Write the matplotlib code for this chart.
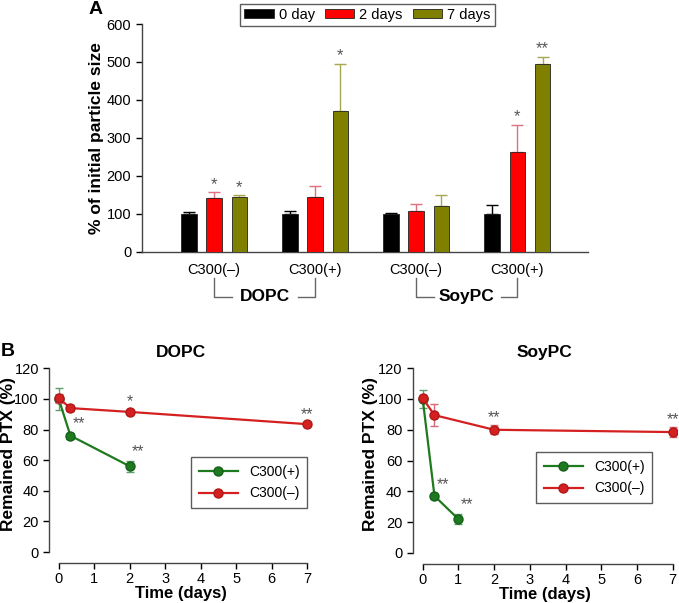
import matplotlib
matplotlib.use('Agg')
import matplotlib.pyplot as plt
import numpy as np
from matplotlib.patches import Patch

plt.rcParams['font.family'] = ['Liberation Sans', 'DejaVu Sans']
plt.rcParams['axes.linewidth'] = 1.0

# ---------------- Panel A data ----------------
groups = ['C300(–)', 'C300(+)', 'C300(–)', 'C300(+)']
lipids = ['DOPC', 'SoyPC']
day_labels = ['0 day', '2 days', '7 days']
size_0 = [100, 100, 100, 100]
size_2 = [142, 143, 108, 264]
size_7 = [143, 371, 120, 495]
err_0 = [4, 6, 3, 23]
err_2 = [14, 29, 18, 70]
err_7 = [6, 124, 29, 19]
sig_2 = ['*', '', '', '*']
sig_7 = ['*', '*', '', '**']

# ---------------- Panel B data ----------------
t_plus_dopc = [0, 0.33, 2]
y_plus_dopc = [100, 76, 56]
e_plus_dopc = [7, 2, 3.5]
sig_plus_dopc = ['', '**', '**']
t_minus_dopc = [0, 0.33, 2, 7]
y_minus_dopc = [100.5, 94, 91.5, 83.5]
e_minus_dopc = [3, 2, 1.5, 1.5]
sig_minus_dopc = ['', '', '*', '**']

t_plus_soy = [0, 0.33, 1]
y_plus_soy = [100, 37, 22]
e_plus_soy = [6, 1.5, 3.5]
sig_plus_soy = ['', '**', '**']
t_minus_soy = [0, 0.33, 2, 7]
y_minus_soy = [100.5, 89.5, 80, 78.5]
e_minus_soy = [1.5, 7, 3, 3]
sig_minus_soy = ['', '', '**', '**']

W, H = 679, 603
fig = plt.figure(figsize=(W / 100, H / 100), dpi=100)


def fr(x0, y0, x1, y1):
    return [x0 / W, 1 - y1 / H, (x1 - x0) / W, (y1 - y0) / H]


# ================= Panel A =================
axA = fig.add_axes(fr(141.7, 24, 588, 251.7))
bar_colors = ['#000000', '#ff0000', '#7f7f00']
err_colors = ['#000000', '#e0707f', '#a8a850']
vals = [size_0, size_2, size_7]
errs = [err_0, err_2, err_7]
sigs = [[''] * 4, sig_2, sig_7]
x = np.arange(len(groups))
bw = 0.153
off = 0.25
for i in range(3):
    xi = x + (i - 1) * off
    axA.bar(xi, vals[i], width=bw, color=bar_colors[i], edgecolor='#222222',
            linewidth=0.6, zorder=3)
    axA.errorbar(xi, vals[i], yerr=[np.zeros(4), errs[i]], fmt='none',
                 ecolor=err_colors[i], elinewidth=1.0, capsize=4, capthick=1.0,
                 zorder=2)
    for k in range(4):
        if sigs[i][k]:
            axA.text(xi[k], vals[i][k] + errs[i][k] + 1, sigs[i][k],
                     ha='center', va='bottom', fontsize=12, color='#555555')

axA.set_xlim(-0.716, 3.70)
axA.set_ylim(0, 600)
axA.set_yticks(np.arange(0, 601, 100))
axA.set_xticks(x)
axA.set_xticklabels(groups, fontsize=10.5)
axA.tick_params(axis='x', length=0, pad=8)
axA.tick_params(axis='y', labelsize=10.5, length=4, width=1, direction='out')
for s in ['top', 'right']:
    axA.spines[s].set_visible(False)
for s in ['left', 'bottom']:
    axA.spines[s].set_color('#444444')
axA.set_ylabel('% of initial particle size', fontsize=12.5, fontweight='bold')
axA.yaxis.set_label_coords(-0.085, 0.5)

# group brackets
tr = axA.get_xaxis_transform()
for j, lip in enumerate(lipids):
    a, b = x[2 * j], x[2 * j + 1]
    ytop, ybot = -0.1155, -0.1976
    axA.plot([a, a, a + 0.18], [ytop, ybot, ybot], transform=tr, color='#666666',
             lw=1.0, clip_on=False)
    axA.plot([b - 0.165, b, b], [ybot, ybot, ytop], transform=tr, color='#666666',
             lw=1.0, clip_on=False)
    axA.text((a + b) / 2, ybot, lip, transform=tr, ha='center', va='center',
             fontsize=12.5, fontweight='bold')

handles = [Patch(facecolor=c, edgecolor='#222222', linewidth=0.6) for c in bar_colors]
fig.legend(handles, day_labels, loc='center', bbox_to_anchor=(367.5 / W, 1 - 15 / H),
           ncol=3, frameon=True, fancybox=False, edgecolor='#333333', fontsize=10.5,
           handlelength=2.0, handleheight=0.6, columnspacing=0.7,
           handletextpad=0.35, borderpad=0.3)
fig.text(89 / W, 1 - 9 / H, 'A', fontsize=14, fontweight='bold', va='center')


# ================= Panel B =================
def panel_b(rect, xlim, ylim, tp, yp, ep, sp, tm, ym, em, sm, title, leg_anchor,
            ylab_x):
    ax = fig.add_axes(rect)
    gc, rc = '#1e7a1e', '#d42020'
    gerr, rerr = '#5f9f70', '#d86a78'
    ax.errorbar(tp, yp, yerr=ep, fmt='none', ecolor=gerr, elinewidth=1.0,
                capsize=3, capthick=1.0, zorder=2)
    ax.plot(tp, yp, '-o', color=gc, lw=1.6, ms=6.5, mec='#16601a', zorder=3,
            label='C300(+)')
    ax.errorbar(tm, ym, yerr=em, fmt='none', ecolor=rerr, elinewidth=1.0,
                capsize=3, capthick=1.0, zorder=4)
    ax.plot(tm, ym, '-o', color=rc, lw=1.6, ms=6.5, mec='#b01818', zorder=5,
            label='C300(–)')
    for tt, yy, ee, s in zip(tp, yp, ep, sp):
        if s:
            ax.annotate(s, (tt, yy + ee), xytext=(6, 1), textcoords='offset points',
                        ha='center', va='bottom', fontsize=11.5, color='#555555')
    for tt, yy, ee, s in zip(tm, ym, em, sm):
        if s:
            ax.annotate(s, (tt, yy + ee), xytext=(0, 0), textcoords='offset points',
                        ha='center', va='bottom', fontsize=11.5, color='#555555')
    ax.set_xlim(*xlim)
    ax.set_ylim(*ylim)
    ax.set_xticks(range(0, 8))
    ax.set_yticks(range(0, 121, 20))
    ax.spines['top'].set_visible(False)
    ax.spines['right'].set_visible(False)
    ax.spines['left'].set_bounds(0, 120)
    ax.spines['bottom'].set_bounds(0, 7)
    for s in ['left', 'bottom']:
        ax.spines[s].set_color('#444444')
    ax.tick_params(labelsize=10.5, length=4, width=1, direction='out')
    ax.tick_params(axis='x', pad=2.5)
    ax.set_xlabel('Time (days)', fontsize=12, fontweight='bold', labelpad=0)
    ax.set_ylabel('Remained PTX (%)', fontsize=12.5, fontweight='bold')
    ax.yaxis.set_label_coords(ylab_x, 0.55)
    ax.set_title(title, fontsize=12.5, fontweight='bold', pad=5)
    ax.legend(loc='lower right', bbox_to_anchor=leg_anchor, borderaxespad=0,
              frameon=True, fancybox=False, edgecolor='#333333', fontsize=10,
              handlelength=2.8, labelspacing=0.55, borderpad=0.55)
    return ax


panel_b(fr(49.3, 364, 312.5, 563.3), (-0.265, 7.147), (-7.38, 122.8),
        t_plus_dopc, y_plus_dopc, e_plus_dopc, sig_plus_dopc,
        t_minus_dopc, y_minus_dopc, e_minus_dopc, sig_minus_dopc,
        'DOPC', (0.98, 0.277), -0.128)
panel_b(fr(412.7, 364, 676.9, 564), (-0.28, 7.12), (-7.15, 122.7),
        t_plus_soy, y_plus_soy, e_plus_soy, sig_plus_soy,
        t_minus_soy, y_minus_soy, e_minus_soy, sig_minus_soy,
        'SoyPC', (0.906, 0.305), -0.131)
fig.text(1 / W, 1 - 352 / H, 'B', fontsize=14, fontweight='bold', va='center')

fig.savefig('out.png', dpi=100)
